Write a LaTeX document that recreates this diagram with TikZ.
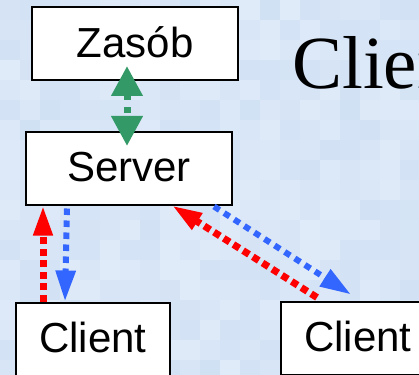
\documentclass[tikz,border=0pt]{standalone}
\usepackage{fontspec}
\newfontfamily\boxfont{Liberation Sans}
\newfontfamily\titlefont{Liberation Serif}
\usetikzlibrary{arrows.meta}
\definecolor{bgA}{RGB}{209,225,244}
\definecolor{bgB}{RGB}{224,235,249}
\definecolor{linkred}{RGB}{255,0,0}
\definecolor{linkblue}{RGB}{51,102,255}
\definecolor{linkgreen}{RGB}{51,153,102}
\begin{document}
\begin{tikzpicture}[x=1pt,y=-1pt,
  box/.style={draw=black,line width=2pt,fill=white,minimum width=#1,
    minimum height=73pt,inner sep=0pt,
    font=\boxfont\fontsize{42}{48}\selectfont,text height=30pt,text depth=3pt},
  box/.default=206pt,
  greenlink/.style={draw=linkgreen,line width=7pt,dash pattern=on 6pt off 7pt,
    {Triangle[length=30pt,width=30pt]}-{Triangle[length=30pt,width=30pt]}},
  redlink/.style={draw=linkred,line width=7pt,dash pattern=on 7pt off 4.5pt,
    -{Triangle[length=30pt,width=18pt]}},
  bluelink/.style={draw=linkblue,line width=6pt,dash pattern=on 6.5pt off 5.5pt,
    -{Triangle[length=31pt,width=19pt]}}]
\useasboundingbox (0,0) rectangle (419,374);
\clip (0,0) rectangle (419,374);
% mottled light-blue backdrop
\pgfmathsetseed{42}
\foreach \i in {0,...,20}{
  \foreach \j in {0,...,18}{
    \pgfmathsetmacro\shade{int(100*rnd)}
    \fill[bgB!\shade!bgA] (\i*20,\j*20) rectangle ++(20,20);
  }
}
% heading
\node[font=\titlefont\fontsize{75}{80}\selectfont,anchor=base west,inner sep=0pt]
  (title) at (292,88.5) {Client};
% boxes
\node[box] (zasob) at (135,44) {Zasób};
\node[box] (server) at (129,168) {Server};
\node[box=154pt] (client1) at (93,339) {Client};
\node[box=154pt] (client2) at (358,338) {Client};
% resource link
\draw[greenlink] ([xshift=-8pt,yshift=15.5pt]zasob.south)
  -- ([xshift=-2pt,yshift=-15.5pt]server.north);
% requests and replies
\draw[redlink] ([xshift=28pt]client1.north west) -- ([xshift=18pt]server.south west);
\draw[bluelink] ([xshift=42pt,yshift=-3pt]server.south west) -- ([xshift=50pt]client1.north west);
\draw[redlink] ([xshift=37pt,yshift=3pt]client2.north west) -- ([xshift=147pt]server.south west);
\draw[bluelink] ([xshift=189pt,yshift=-1pt]server.south west) -- ([xshift=71pt,yshift=6pt]client2.north west);
\end{tikzpicture}
\end{document}
